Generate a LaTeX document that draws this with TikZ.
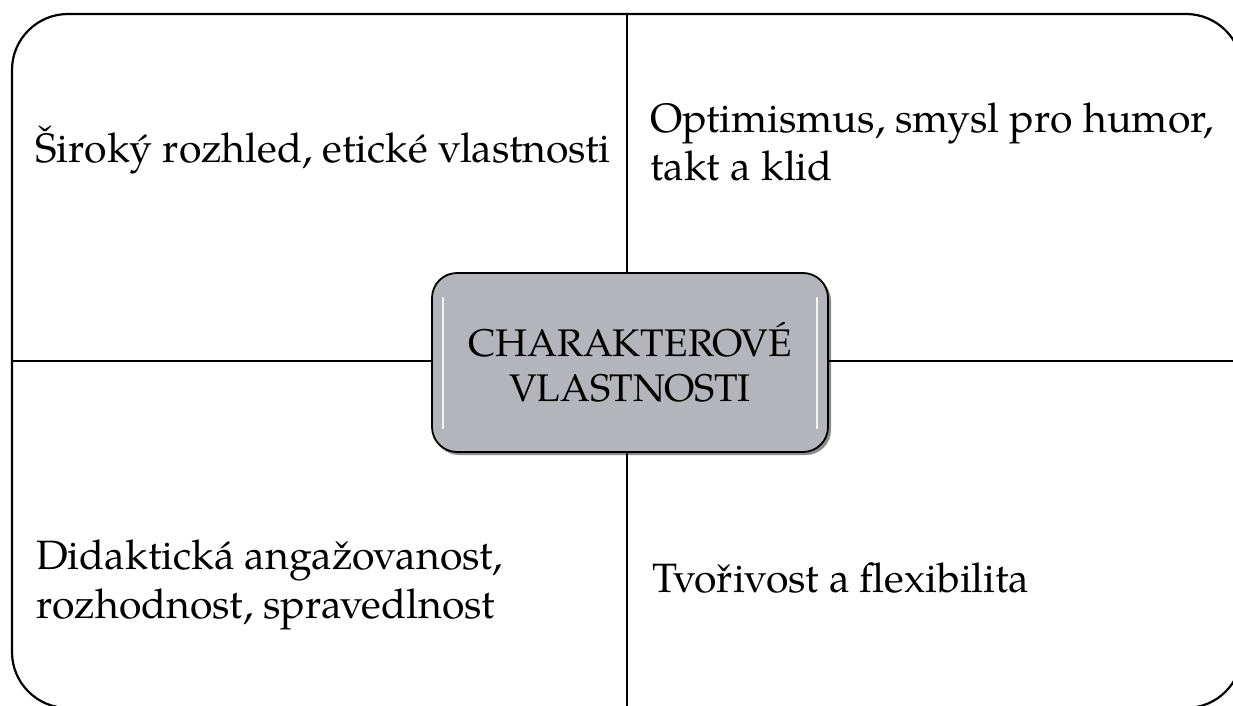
\documentclass[tikz,border=0pt]{standalone}
\usepackage{fontspec}
\setmainfont{TeX Gyre Pagella}
\definecolor{boxgray}{RGB}{180,181,186}
\tikzset{
  frameline/.style={line width=2.2pt, draw=black},
  qtext/.style={font=\fontsize{41}{48.5}\selectfont, align=left, inner sep=0pt, anchor=base west},
  centerbox/.style={draw=black, line width=1.8pt, fill=boxgray, rounded corners=25pt,
    minimum width=396pt, minimum height=179pt, align=center, inner sep=0pt,
    font=\fontsize{38.5}{45}\selectfont},
  gloss/.style={draw=white, line width=2.2pt, line cap=round, opacity=0.85}
}
\begin{document}
\begin{tikzpicture}[x=1pt,y=-1pt]
\useasboundingbox (0,0) rectangle (1233,706);
\clip (0,0) rectangle (1233,706);
% outer frame
\draw[frameline, rounded corners=56pt] (12,14) rectangle (1242,708);
\coordinate (top) at (627,14);
\coordinate (bot) at (627,708);
\coordinate (lft) at (12,361);
\coordinate (rgt) at (1242,361);
% center box shadow
\fill[black!45, rounded corners=25pt] (434,276) rectangle (831,455);
\node[centerbox] (c) at (630,362.5) {CHARAKTEROVÉ\\VLASTNOSTI};
\draw[frameline] (top) -- (c.north -| top);
\draw[frameline] (c.south -| bot) -- (bot);
\draw[frameline] (lft) -- (c.west |- lft);
\draw[frameline] (c.east |- rgt) -- (rgt);
\draw[gloss] (443,298) -- (443,428);
\draw[gloss] (817,298) -- (817,428);
% texts (base anchor = baseline of the last line)
\node[qtext] (tl) at (35,162) {Široký rozhled, etické vlastnosti};
\node[qtext] (tr) at (650,180.5) {Optimismus, smysl pro humor,\\takt a klid};
\node[qtext] (bl) at (36,618) {Didaktická angažovanost,\\rozhodnost, spravedlnost};
\node[qtext] (br) at (652,592) {Tvořivost a flexibilita};
\end{tikzpicture}
\end{document}
